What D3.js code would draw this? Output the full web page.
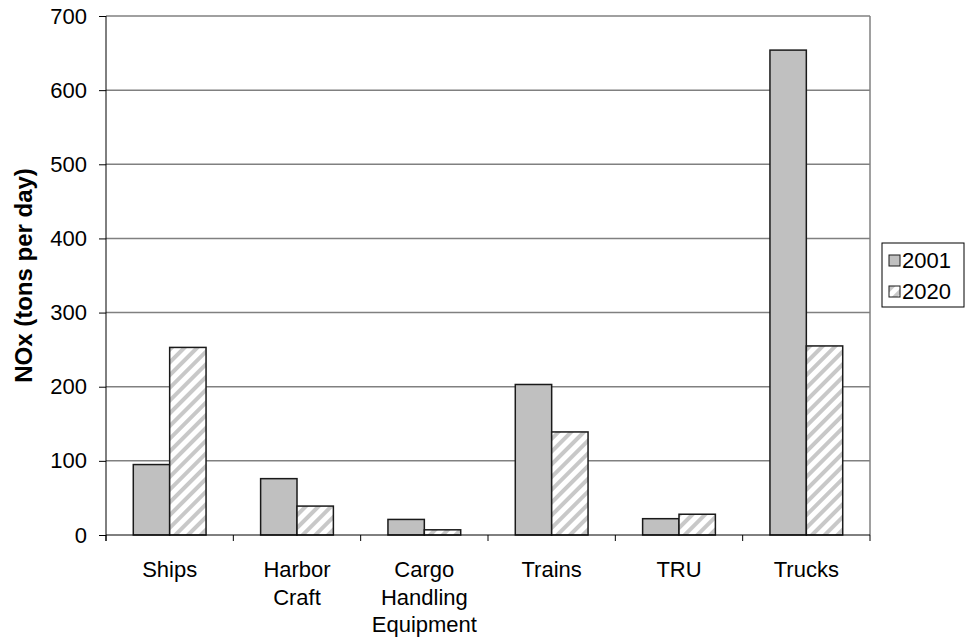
<!DOCTYPE html>
<html>
<head>
<meta charset="utf-8">
<script src="https://cdn.jsdelivr.net/npm/d3@7"></script>
<style>
  body { margin: 0; background: #fff; }
  text { font-family: "Liberation Sans", Arial, sans-serif; }
</style>
</head>
<body>
<div id="chart"></div>
<script>
// data
const categories = ["Ships", "Harbor Craft", "Cargo Handling Equipment", "Trains", "TRU", "Trucks"];
const series = ["2001", "2020"];
const values2001 = [95, 76, 21, 203, 22, 654];
const values2020 = [253, 39, 7, 139, 28, 255];
const yTicks = [0, 100, 200, 300, 400, 500, 600, 700];

const W = 966, H = 638;
const margin = { top: 16, right: 96, bottom: 103, left: 106 },
  width = W - margin.left - margin.right,
  height = H - margin.top - margin.bottom;

const svg = d3.select("#chart").append("svg")
  .attr("width", W).attr("height", H);

// hatch pattern for 2020 bars
const defs = svg.append("defs");
const pat = defs.append("pattern")
  .attr("id", "hatch")
  .attr("patternUnits", "userSpaceOnUse")
  .attr("width", 9).attr("height", 9)
  .attr("patternTransform", "rotate(45)");
pat.append("rect").attr("width", 9).attr("height", 9).attr("fill", "#fff");
pat.append("rect").attr("x", 0).attr("width", 4).attr("height", 9).attr("fill", "#c8c8c8");

const g = svg.append("g").attr("transform", `translate(${margin.left},${margin.top})`);

const x0 = d3.scaleBand().domain(categories).range([0, width]);
const x1 = d3.scaleBand().domain(series).range([0, x0.bandwidth()]).paddingInner(0).paddingOuter(0.75);
const y = d3.scaleLinear().domain([0, 700]).range([height, 0]);

// gridlines
g.append("g").selectAll("line").data(yTicks.filter(d => d > 0)).join("line")
  .attr("x1", 0).attr("x2", width)
  .attr("y1", d => y(d)).attr("y2", d => y(d))
  .attr("stroke", "#808080").attr("stroke-width", 1.5);
// right border
g.append("line").attr("x1", width).attr("x2", width).attr("y1", 0).attr("y2", height)
  .attr("stroke", "#808080").attr("stroke-width", 1.5);

// bars
const rows = categories.map((c, i) => ({ cat: c, vals: [values2001[i], values2020[i]] }));
const grp = g.append("g").selectAll("g").data(rows).join("g")
  .attr("transform", d => `translate(${x0(d.cat)},0)`);
grp.selectAll("rect").data(d => d.vals.map((v, j) => ({ s: series[j], v }))).join("rect")
  .attr("x", d => x1(d.s))
  .attr("width", x1.bandwidth())
  .attr("y", d => y(d.v))
  .attr("height", d => height - y(d.v))
  .attr("fill", d => d.s === "2001" ? "#c0c0c0" : "url(#hatch)")
  .attr("stroke", "#1a1a1a").attr("stroke-width", 1.5);

// y axis
const yAxis = g.append("g")
  .call(d3.axisLeft(y).tickValues(yTicks).tickSize(7).tickPadding(12));
yAxis.select(".domain").attr("d", `M0,0V${height + 6}`).attr("stroke", "#000");
yAxis.selectAll(".tick line").attr("stroke", "#000");
yAxis.selectAll("text").style("font-size", "22px").attr("fill", "#000");

// x axis
const xAxis = g.append("g").attr("transform", `translate(0,${height})`);
xAxis.append("line").attr("x1", 0).attr("x2", width).attr("stroke", "#000");
xAxis.selectAll(".tk").data(d3.range(categories.length + 1)).join("line")
  .attr("x1", i => i * x0.step()).attr("x2", i => i * x0.step())
  .attr("y1", 0).attr("y2", 6).attr("stroke", "#000");
const lbl = xAxis.selectAll(".lbl").data(categories).join("text")
  .attr("text-anchor", "middle")
  .attr("x", d => x0(d) + x0.bandwidth() / 2)
  .attr("y", 42)
  .style("font-size", "22px");
lbl.selectAll("tspan").data(d => d.split(" ")).join("tspan")
  .attr("x", function () { return d3.select(this.parentNode).attr("x"); })
  .attr("dy", (d, i) => i === 0 ? 0 : 27.6)
  .text(d => d);

// y label
svg.append("text")
  .attr("transform", `translate(32,${margin.top + height / 2}) rotate(-90)`)
  .attr("text-anchor", "middle")
  .style("font-size", "24px").style("font-weight", "bold")
  .text("NOx (tons per day)");

// legend
const leg = svg.append("g").attr("transform", "translate(882,243)");
leg.append("rect").attr("width", 82).attr("height", 64)
  .attr("fill", "#fff").attr("stroke", "#000").attr("stroke-width", 1);
series.forEach((s, i) => {
  const by = 25 + i * 31;
  leg.append("rect").attr("x", 7).attr("y", by - 13).attr("width", 11).attr("height", 11)
    .attr("fill", s === "2001" ? "#c0c0c0" : "url(#hatch)")
    .attr("stroke", "#1a1a1a").attr("stroke-width", 1);
  leg.append("text").attr("x", 20).attr("y", by).style("font-size", "22px").text(s);
});
</script>
</body>
</html>
